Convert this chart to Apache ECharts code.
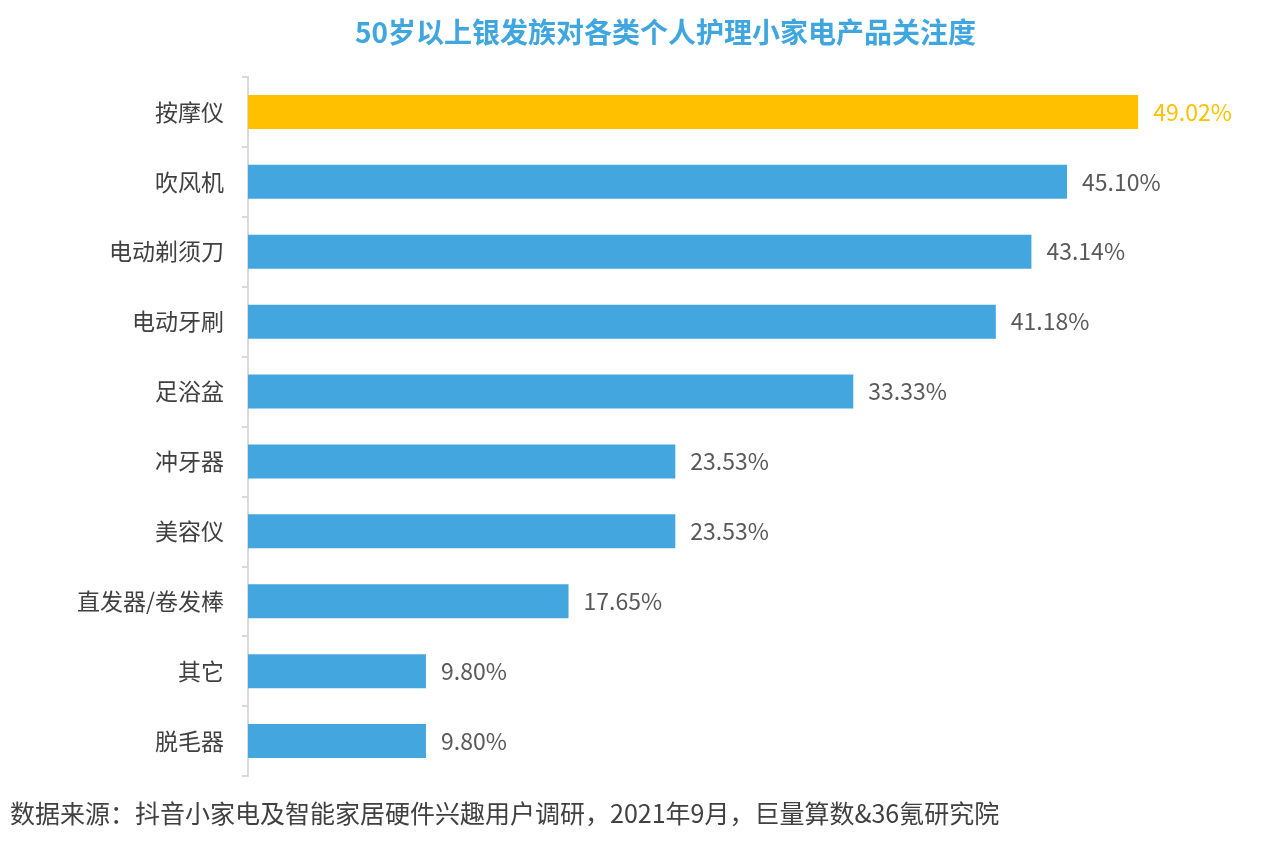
<!DOCTYPE html>
<html>
<head>
<meta charset="utf-8">
<script src="https://cdn.jsdelivr.net/npm/echarts@6/dist/echarts.min.js"></script>
<style>
html, body { margin: 0; padding: 0; background: #fff; }
#chart { width: 1268px; height: 842px; }
</style>
</head>
<body>
<div id="chart"></div>
<script>
// 类目 (从上到下)
var categories = ['按摩仪', '吹风机', '电动剃须刀', '电动牙刷', '足浴盆', '冲牙器', '美容仪', '直发器/卷发棒', '其它', '脱毛器'];
var values = [49.02, 45.10, 43.14, 41.18, 33.33, 23.53, 23.53, 17.65, 9.80, 9.80];
var highlightIndex = 0;

var titleText = '50岁以上银发族对各类个人护理小家电产品关注度';
var sourceText = '数据来源：抖音小家电及智能家居硬件兴趣用户调研，2021年9月，巨量算数&36氪研究院';

var blue = '#44A6DF';
var yellow = '#FFC000';

var chart = echarts.init(document.getElementById('chart'));

var barData = values.map(function (v, i) {
    var hl = i === highlightIndex;
    return {
        value: v,
        itemStyle: { color: hl ? yellow : blue },
        label: { color: hl ? yellow : '#595959' }
    };
});

var option = {
    backgroundColor: '#fff',
    animation: false,
    title: {
        text: titleText,
        left: 350,
        top: 13,
        textStyle: {
            color: '#3FA6DF',
            fontSize: 28,
            fontWeight: 'bold',
            fontFamily: 'Noto Sans CJK SC'
        }
    },
    graphic: [{
        type: 'text',
        left: 10,
        top: 801,
        style: {
            text: sourceText,
            fill: '#404040',
            font: '25px "Noto Sans CJK SC"'
        }
    }],
    grid: {
        left: 248,
        top: 77,
        width: 908,
        height: 699,
        containLabel: false
    },
    xAxis: {
        type: 'value',
        min: 0,
        max: 50,
        show: false
    },
    yAxis: {
        type: 'category',
        inverse: true,
        data: categories,
        axisLine: { show: true, lineStyle: { color: '#D9D9D9', width: 2 } },
        axisTick: { show: true, length: 6, lineStyle: { color: '#D9D9D9', width: 2 } },
        axisLabel: {
            color: '#404040',
            fontSize: 23,
            margin: 24,
            fontFamily: 'Noto Sans CJK SC'
        }
    },
    series: [{
        type: 'bar',
        data: barData,
        barWidth: 34,
        label: {
            show: true,
            position: 'right',
            distance: 15,
            fontSize: 23,
            fontFamily: 'Noto Sans CJK SC',
            formatter: function (p) { return p.value.toFixed(2) + '%'; }
        }
    }]
};

chart.setOption(option);
</script>
</body>
</html>
